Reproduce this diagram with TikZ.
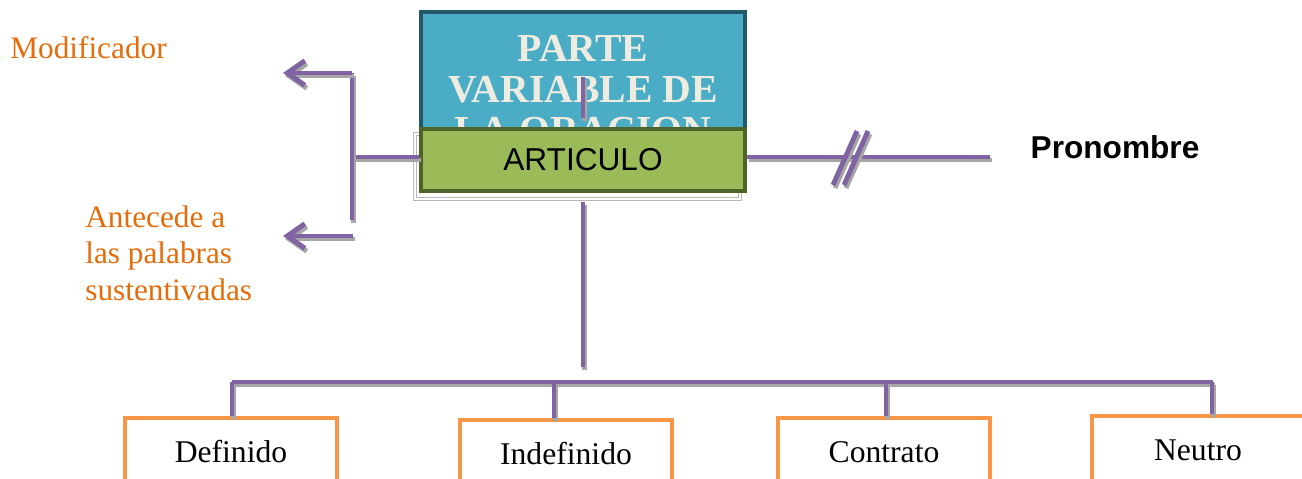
\documentclass[tikz,border=0pt]{standalone}
\usepackage{fontspec}
\setmainfont{Liberation Serif}
\setsansfont{Liberation Sans}
\usetikzlibrary{calc}
\usetikzlibrary{arrows.meta}

\definecolor{linkpurple}{HTML}{8064A2}
\definecolor{shadegray}{HTML}{A6A6A6}
\definecolor{topblue}{HTML}{4BACC6}
\definecolor{topedge}{HTML}{215968}
\definecolor{titlecolor}{HTML}{EEECE1}
\definecolor{artgreen}{HTML}{9BBB59}
\definecolor{artedge}{HTML}{4F6228}
\definecolor{kindedge}{HTML}{F79646}
\definecolor{notecolor}{HTML}{E46C0A}

\tikzset{
  link/.style={draw=linkpurple, line width=2.8pt, preaction={draw=shadegray, line width=2.8pt, transform canvas={shift={(1.1pt,-1.7pt)}}}},
  tip/.style={-{Straight Barb[length=10pt, width=14pt]}},
  kind/.style={draw=kindedge, line width=2.8pt, minimum width=4.24cm, minimum height=1.36cm, font=\fontsize{18}{21}\selectfont},
  note/.style={notecolor, inner sep=0pt, font=\fontsize{17.8}{21}\selectfont},
}

\begin{document}
\begin{tikzpicture}[x=0.02cm, y=-0.02cm]
\useasboundingbox (0,0) rectangle (1302,479);

\node[draw=topedge, fill=topblue, line width=2.2pt, minimum width=6.48cm, minimum height=2.36cm] (parte) at (583,71) {};
\node[titlecolor, anchor=north, inner sep=0pt, align=center, font=\bfseries\fontsize{22.6}{23.2}\selectfont] (titulo) at (583,35) {PARTE\\VARIABLE DE\\LA ORACION};
\draw[link] ($(parte.center)+(0,6)$) -- ($(parte.center)+(0,47)$);

\draw[shadegray!80, line width=0.6pt, double=white, double distance=0.9pt] (415,134) rectangle (740,199);
\node[draw=artedge, fill=artgreen, line width=2.2pt, minimum width=6.48cm, minimum height=1.24cm, font=\sffamily\fontsize{18}{20}\selectfont] (art) at (583,160) {ARTICULO};

\node[font=\sffamily\bfseries\fontsize{18}{20}\selectfont] (pro) at (1115,147) {Pronombre};
\node[note, anchor=west] (modif) at (10,48) {Modificador};
\node[note, anchor=north west, align=left] (antec) at (85,205) {Antecede a\\las palabras\\sustentivadas};

\coordinate (fork) at (352,157);
\coordinate (forktop) at (352,73);
\coordinate (forkbot) at (352,220);
\coordinate (modtip) at (283,73);
\coordinate (antestart) at (353,236);
\coordinate (antetip) at (283,236);
\coordinate (proend) at (990,157);
\coordinate (down) at (583,367);
\coordinate (busl) at (232,382);
\coordinate (busr) at (1213,382);

% left branch
\draw[link] (art.west |- fork) -- (fork);
\draw[link] (forktop) -- (forkbot);
\draw[link, tip] (forktop) -- (modtip);
\draw[link, tip] (antestart) -- (antetip);

% right branch
\draw[link] (art.east |- proend) -- (proend);
\foreach \dx in {0,11} \draw[link] ($(833,186)+(\dx,-1)$) --++(24,-54);

% kinds
\draw[link] ($(art.south)+(0,9)$) -- (down);
\draw[link] (busl) -- (busr);
\foreach \k/\x/\y/\t in {def/231/452/Definido, ind/566/454/Indefinido, con/884/452/Contrato, neu/1198/450/Neutro}
  \node[kind] (\k) at (\x,\y) {\t};
\foreach \k/\x in {def/232, ind/554, con/886, neu/1212}
  \draw[link] (\x,382) -- (\x,382 |- \k.north);

\end{tikzpicture}
\end{document}
